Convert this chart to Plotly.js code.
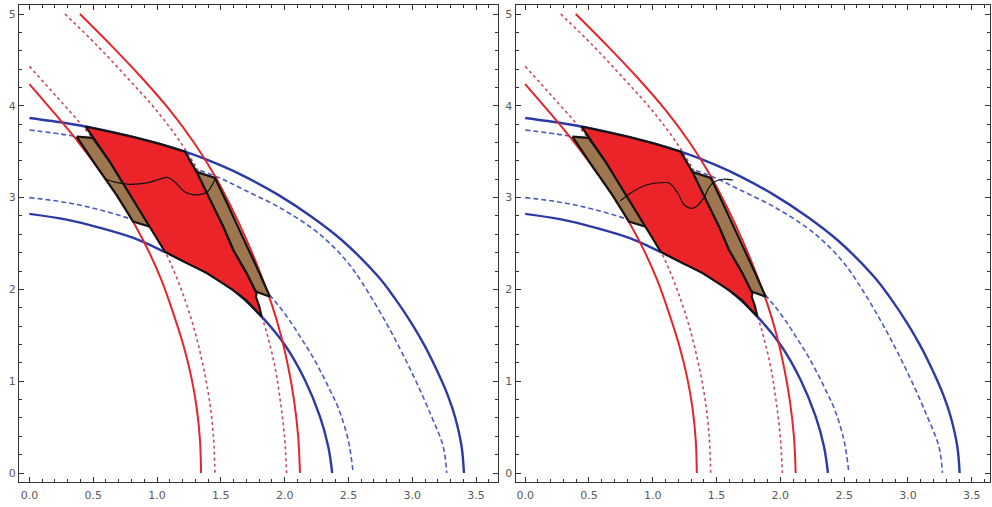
<!DOCTYPE html>
<html>
<head>
<meta charset="utf-8">
<script src="https://cdn.plot.ly/plotly-3.0.1.min.js"></script>
<style>html,body{margin:0;padding:0;background:#fff;}#chart{width:992px;height:507px;}</style>
</head>
<body>
<div id="chart"></div>
<script>
// ---- data ----
// red solid, inner
const r1X = [0, 0.208, 0.386, 0.547, 0.696, 0.828, 0.94, 1.035, 1.125, 1.205, 1.268, 1.312, 1.337, 1.345];
const r1Y = [4.237, 3.90, 3.60, 3.30, 3.00, 2.70, 2.40, 2.10, 1.75, 1.40, 1.05, 0.70, 0.35, 0];
// red dashed, inner
const r1dX = [0, 0.213, 0.435, 0.626, 0.80, 0.955, 1.085, 1.19, 1.285, 1.356, 1.41, 1.442, 1.454];
const r1dY = [4.43, 4.10, 3.75, 3.40, 3.05, 2.70, 2.35, 2.00, 1.60, 1.20, 0.80, 0.40, 0];
// red solid, outer
const r2X = [0.396, 0.646, 0.884, 1.102, 1.289, 1.448, 1.580, 1.698, 1.803, 1.896, 1.971, 2.029, 2.073, 2.106, 2.12];
const r2Y = [5.0, 4.65, 4.30, 3.95, 3.60, 3.25, 2.90, 2.55, 2.20, 1.85, 1.50, 1.15, 0.80, 0.40, 0];
// red dashed, outer
const r2dX = [0.278, 0.535, 0.77, 0.995, 1.185, 1.34, 1.47, 1.588, 1.693, 1.787, 1.865, 1.925, 1.965, 1.999, 2.016];
const r2dY = [5.0, 4.65, 4.30, 3.95, 3.60, 3.25, 2.90, 2.55, 2.20, 1.85, 1.50, 1.15, 0.80, 0.40, 0];
// blue solid, lower
const b1X = [0, 0.292, 0.554, 0.815, 1.05, 1.389, 1.597, 1.82, 2.002, 2.159, 2.277, 2.342, 2.373];
const b1Y = [2.823, 2.76, 2.67, 2.56, 2.415, 2.18, 1.993, 1.703, 1.394, 1.013, 0.613, 0.286, 0];
// blue dashed, lower
const b1dX = [0, 0.292, 0.554, 0.815, 1.05, 1.389, 1.597, 1.72, 1.82, 1.937, 2.04, 2.133, 2.21, 2.29, 2.36, 2.42, 2.498, 2.537];
const b1dY = [3.0, 2.946, 2.866, 2.758, 2.64, 2.455, 2.29, 2.16, 2.03, 1.85, 1.66, 1.46, 1.29, 1.086, 0.89, 0.71, 0.36, 0];
// blue solid, upper
const b2X = [0, 0.292, 0.448, 0.813, 1.219, 1.5, 1.689, 1.95, 2.211, 2.447, 2.733, 2.86, 2.995, 3.1, 3.204, 3.28, 3.335, 3.387, 3.405];
const b2Y = [3.867, 3.81, 3.772, 3.66, 3.50, 3.35, 3.228, 3.03, 2.792, 2.538, 2.14, 1.91, 1.631, 1.38, 1.086, 0.84, 0.613, 0.286, 0];
// blue dashed, upper
const b2dX = [0, 0.292, 0.37, 0.813, 1.219, 1.48, 1.689, 1.95, 2.211, 2.34, 2.447, 2.551, 2.786, 2.995, 3.152, 3.243, 3.27];
const b2dY = [3.737, 3.683, 3.664, 3.52, 3.35, 3.22, 3.08, 2.90, 2.67, 2.52, 2.37, 2.19, 1.66, 1.10, 0.613, 0.286, 0];

// filled regions
const redX = [0.44, 0.63, 0.813, 1.02, 1.219, 1.31, 1.414, 1.519, 1.597, 1.702, 1.767, 1.78, 1.775, 1.80, 1.82, 1.70, 1.597, 1.389, 1.2, 1.062, 0.97, 0.84, 0.631, 0.44];
const redY = [3.775, 3.72, 3.66, 3.585, 3.50, 3.28, 2.974, 2.683, 2.429, 2.175, 1.993, 1.96, 1.92, 1.82, 1.703, 1.88, 1.993, 2.18, 2.31, 2.41, 2.62, 2.92, 3.39, 3.775];
const brownLX = [0.37, 0.497, 0.631, 0.84, 0.944, 0.813, 0.683, 0.527, 0.37];
const brownLY = [3.664, 3.65, 3.39, 2.92, 2.683, 2.74, 3.03, 3.34, 3.664];
const brownRX = [1.31, 1.454, 1.54, 1.63, 1.72, 1.805, 1.885, 1.78, 1.767, 1.702, 1.597, 1.519, 1.414, 1.31];
const brownRY = [3.28, 3.215, 2.965, 2.70, 2.43, 2.17, 1.92, 1.975, 1.993, 2.175, 2.429, 2.683, 2.974, 3.28];

// thin black paths (left panel, right panel)
const pathLX = [0.60, 0.68, 0.78, 0.92, 1.02, 1.08, 1.14, 1.22, 1.29, 1.36, 1.40, 1.454];
const pathLY = [3.20, 3.165, 3.145, 3.16, 3.20, 3.22, 3.17, 3.06, 3.03, 3.04, 3.07, 3.20];
const pathRX = [0.745, 0.843, 0.948, 1.066, 1.131, 1.196, 1.248, 1.30, 1.34, 1.405, 1.444, 1.484, 1.549, 1.627];
const pathRY = [2.965, 3.064, 3.137, 3.162, 3.156, 3.047, 2.919, 2.883, 2.90, 3.01, 3.12, 3.173, 3.20, 3.19];

const xTickVals = [0, 0.5, 1, 1.5, 2, 2.5, 3, 3.5];
const xTickText = ["0.0", "0.5", "1.0", "1.5", "2.0", "2.5", "3.0", "3.5"];
const yTickVals = [0, 1, 2, 3, 4, 5];
const yTickText = ["0", "1", "2", "3", "4", "5"];

// ---- styles ----
const RED = '#e4262b', RED_D = '#c84a62', BLUE = '#2d3aa6', BLUE_D = '#4a5bc2';
const FILL_RED = '#ea2428', FILL_BROWN = '#9e7650';

function panel(xa, ya, px, py) {
  const t = [];
  const ln = (x, y, color, width, dash) => ({
    type: 'scatter', mode: 'lines', x: x, y: y, xaxis: xa, yaxis: ya,
    line: {color: color, width: width, dash: dash || 'solid', shape: 'spline', smoothing: 1},
    hoverinfo: 'skip', showlegend: false
  });
  t.push(ln(b2dX, b2dY, BLUE_D, 1.6, '5px,3px'));
  t.push(ln(b1dX, b1dY, BLUE_D, 1.6, '5px,3px'));
  t.push(ln(r1dX, r1dY, RED_D, 1.6, '3px,3px'));
  t.push(ln(r2dX, r2dY, RED_D, 1.6, '3px,3px'));
  t.push(ln(b1X, b1Y, BLUE, 2.4));
  t.push(ln(b2X, b2Y, BLUE, 2.4));
  t.push(ln(r1X, r1Y, RED, 2));
  t.push(ln(r2X, r2Y, RED, 2));
  const poly = (x, y, fc) => ({
    type: 'scatter', mode: 'lines', x: x, y: y, xaxis: xa, yaxis: ya, fill: 'toself', fillcolor: fc,
    line: {color: '#141414', width: 2.2}, hoverinfo: 'skip', showlegend: false
  });
  t.push(poly(brownLX, brownLY, FILL_BROWN));
  t.push(poly(brownRX, brownRY, FILL_BROWN));
  t.push(poly(redX, redY, FILL_RED));
  t.push({type: 'scatter', mode: 'lines', x: px, y: py, xaxis: xa, yaxis: ya,
    line: {color: '#111', width: 1.2, shape: 'spline', smoothing: 1}, hoverinfo: 'skip', showlegend: false});
  return t;
}

const data = panel('x', 'y', pathLX, pathLY).concat(panel('x2', 'y2', pathRX, pathRY));

const tickFont = {family: 'DejaVu Sans, sans-serif', size: 11, color: '#5a5a5a'};
function xAx(domain, range, anchor) {
  return {domain: domain, range: range, anchor: anchor, showgrid: false, zeroline: false,
    showline: true, linecolor: '#333', linewidth: 1, mirror: 'ticks',
    ticks: 'inside', ticklen: 5, tickwidth: 1, tickcolor: '#333',
    tickvals: xTickVals, ticktext: xTickText, tickfont: tickFont, ticklabelstandoff: 3,
    minor: {dtick: 0.1, tick0: 0, ticks: 'inside', ticklen: 3, tickcolor: '#333', tickwidth: 1, showgrid: false},
    fixedrange: true};
}
function yAx(domain, range, anchor) {
  return {domain: domain, range: range, anchor: anchor, showgrid: false, zeroline: false,
    showline: true, linecolor: '#333', linewidth: 1, mirror: 'ticks',
    ticks: 'inside', ticklen: 5, tickwidth: 1, tickcolor: '#333',
    tickvals: yTickVals, ticktext: yTickText, tickfont: tickFont,
    minor: {dtick: 0.2, tick0: 0, ticks: 'inside', ticklen: 3, tickcolor: '#333', tickwidth: 1, showgrid: false},
    fixedrange: true};
}
const yDom = [25 / 507, 502 / 507];
const layout = {
  width: 992, height: 507, margin: {l: 0, r: 0, t: 0, b: 0},
  paper_bgcolor: '#fff', plot_bgcolor: '#fff', showlegend: false,
  xaxis: xAx([19 / 992, 498 / 992], [-0.0815, 3.672], 'y'),
  yaxis: yAx(yDom, [-0.098, 5.098], 'x'),
  xaxis2: xAx([515.5 / 992, 990 / 992], [-0.076, 3.643], 'y2'),
  yaxis2: yAx(yDom, [-0.098, 5.098], 'x2')
};
Plotly.newPlot('chart', data, layout, {displayModeBar: false, staticPlot: true});
</script>
</body>
</html>
